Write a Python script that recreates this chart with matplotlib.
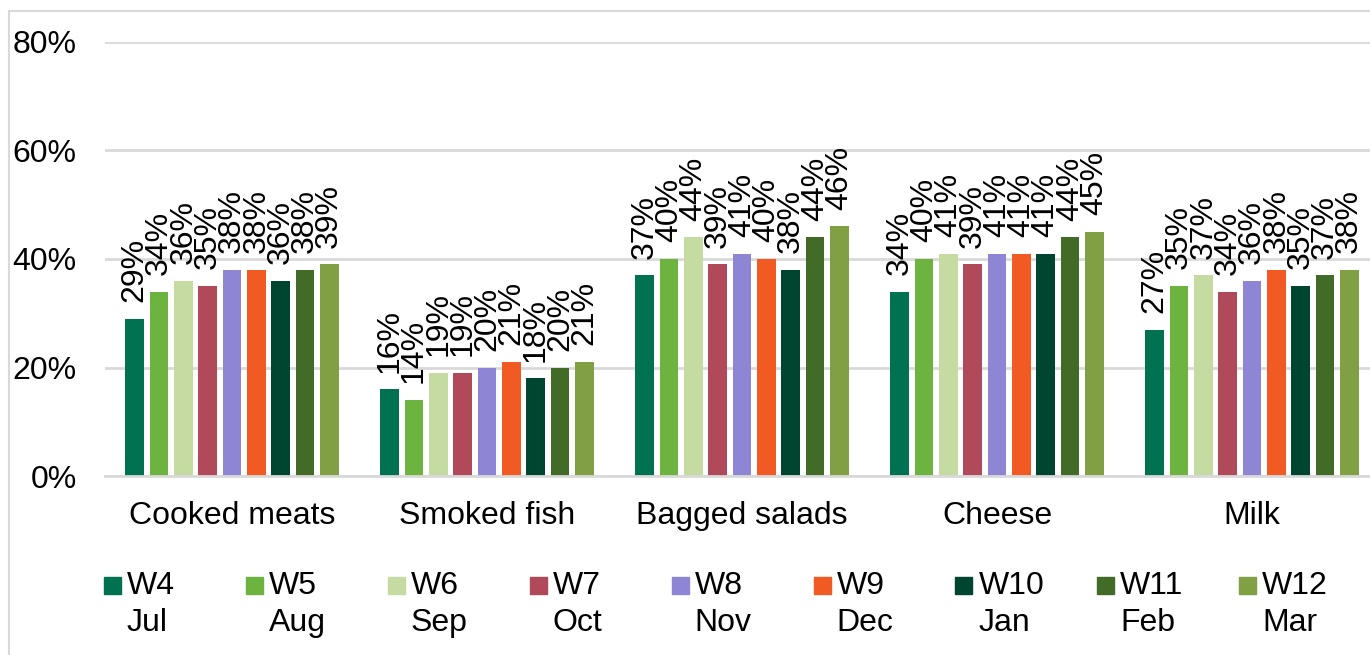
import numpy as np
import matplotlib
matplotlib.use('Agg')
import matplotlib.pyplot as plt
from matplotlib.patches import Rectangle

plt.rcParams['font.family'] = ['Liberation Sans', 'DejaVu Sans']

# data
categories = ['Cooked meats', 'Smoked fish', 'Bagged salads', 'Cheese', 'Milk']
waves = ['W4', 'W5', 'W6', 'W7', 'W8', 'W9', 'W10', 'W11', 'W12']
months = ['Jul', 'Aug', 'Sep', 'Oct', 'Nov', 'Dec', 'Jan', 'Feb', 'Mar']
colors = ['#007151', '#6db33f', '#c5dba2', '#b04a5a', '#8e85d4',
          '#f15a22', '#00452f', '#436b28', '#80a043']

cooked_meats = [29, 34, 36, 35, 38, 38, 36, 38, 39]
smoked_fish = [16, 14, 19, 19, 20, 21, 18, 20, 21]
bagged_salads = [37, 40, 44, 39, 41, 40, 38, 44, 46]
cheese = [34, 40, 41, 39, 41, 41, 41, 44, 45]
milk = [27, 35, 37, 34, 36, 38, 35, 37, 38]

values = np.array([cooked_meats, smoked_fish, bagged_salads, cheese, milk])

W, H = 1370, 655
fig = plt.figure(figsize=(W / 100, H / 100), dpi=100)
fs = 23

# outer border of the chart area
fig.patches.append(Rectangle((9 / W, -0.1), 1.2, 1 - 11 / H + 0.1, transform=fig.transFigure,
                             fill=False, edgecolor='#d9d9d9', linewidth=1.5))

ax = fig.add_axes([104.5 / W, 1 - 476 / H, 1275 / W, (476 - 42) / H])

x = np.arange(len(categories))
step = 0.0953
bw = 0.0733
for i in range(len(waves)):
    xs = x + (i - 4) * step
    ax.bar(xs, values[:, i], width=bw, color=colors[i], zorder=3)
    for xx, v in zip(xs, values[:, i]):
        ax.annotate(f'{v}%', (xx, v), xytext=(0, 12), textcoords='offset points',
                    rotation=90, ha='center', va='bottom', fontsize=fs)

ax.set_xlim(-0.5, len(categories) - 0.5)
ax.set_ylim(0, 80)
ax.set_yticks([0, 20, 40, 60, 80])
ax.set_yticklabels(['0%', '20%', '40%', '60%', '80%'], fontsize=fs)
ax.set_xticks(x)
ax.set_xticklabels(categories, fontsize=fs)
ax.tick_params(axis='y', length=0, pad=20)
ax.tick_params(axis='x', length=0, pad=18)
ax.grid(axis='y', color='#d9d9d9', linewidth=2, zorder=0)
for s in ['top', 'right', 'left']:
    ax.spines[s].set_visible(False)
ax.spines['bottom'].set_color('#d9d9d9')
ax.spines['bottom'].set_linewidth(2)
ax.spines['bottom'].set_zorder(4)

# legend, drawn by hand so the swatch sits on the first line
for i in range(len(waves)):
    lx = 104 + 141.9 * i
    fig.patches.append(Rectangle((lx / W, 1 - 594 / H), 17 / W, 17 / H,
                                 transform=fig.transFigure, color=colors[i]))
    fig.text((lx + 23) / W, 1 - 571 / H, waves[i] + '\n' + months[i],
             ha='left', va='top', fontsize=fs, linespacing=1.3)

fig.savefig('out.png', dpi=100)
